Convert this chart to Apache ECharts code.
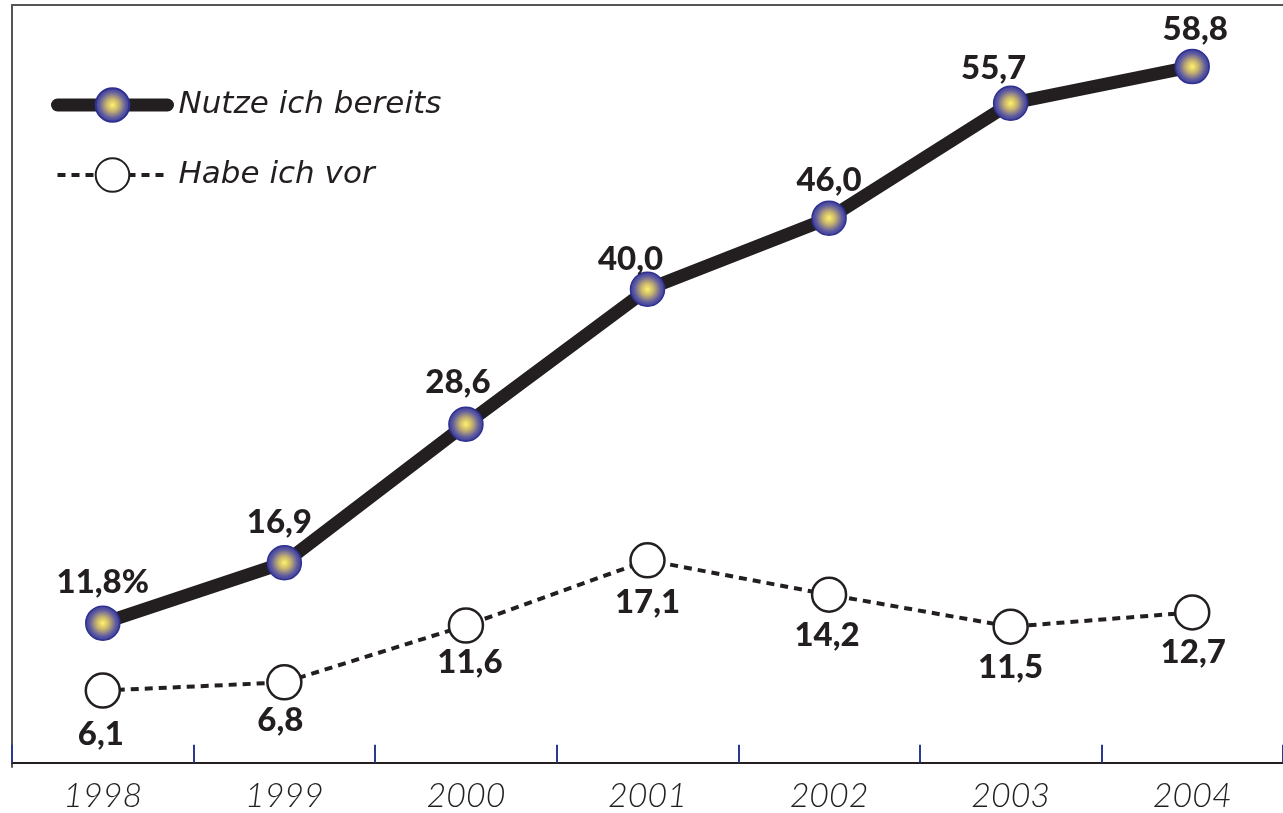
<!DOCTYPE html>
<html>
<head>
<meta charset="utf-8">
<script src="https://cdn.jsdelivr.net/npm/echarts@6/dist/echarts.min.js"></script>
<style>
html,body{margin:0;padding:0;background:#fff;}
#chart{width:1283px;height:813px;}
</style>
</head>
<body>
<div id="chart"></div>
<script>
const years = ['1998','1999','2000','2001','2002','2003','2004'];
const nutzeValues = [11.8, 16.9, 28.6, 40.0, 46.0, 55.7, 58.8];
const habeValues = [6.1, 6.8, 11.6, 17.1, 14.2, 11.5, 12.7];
const seriesNames = ['Nutze ich bereits', 'Habe ich vor'];

// label nudges (style only)
const nutzeLabelNudge = [[0,-3],[-5,-3],[-8,-4],[-17,8],[0,0],[-17,3],[3,1]];
const habeLabelNudge = [[-2,3],[-4,-2],[4,-3],[0,2],[-2,0],[0,0],[1,0]];

const fmt = v => v.toFixed(1).replace('.', ',');
const labelFont = {fontFamily: 'Lato, "Noto Sans", sans-serif', fontWeight: 900, fontSize: 33, color: '#231f20', lineHeight: 32};

const nutzeGradient = {type: 'radial', x: 0.5, y: 0.5, r: 0.5, colorStops: [
  {offset: 0, color: '#fff36a'}, {offset: 0.35, color: '#c8b46e'}, {offset: 0.75, color: '#5d5aa0'}, {offset: 1, color: '#3a3a96'}]};

const chart = echarts.init(document.getElementById('chart'));
chart.setOption({
  animation: false,
  backgroundColor: '#fff',
  grid: {left: 12, right: -2, top: 5, bottom: 45},
  legend: {
    orient: 'vertical', left: 46, top: 79,
    itemWidth: 110, itemHeight: 42, itemGap: 28,
    data: [
      {name: seriesNames[0], lineStyle: {width: 13, cap: 'round', color: '#231f20'}},
      {name: seriesNames[1], lineStyle: {width: 4, type: [8, 6], color: '#231f20'}}
    ],
    textStyle: {fontFamily: '"DejaVu Sans", sans-serif', fontStyle: 'italic', fontSize: 31, color: '#231f20', padding: [0,0,0,6], lineHeight: 42}
  },
  xAxis: [{
    type: 'category', data: years, boundaryGap: true,
    axisLine: {show: true, lineStyle: {color: '#231f20', width: 2}},
    axisTick: {show: true, inside: true, length: 18, lineStyle: {color: '#2b3990', width: 2}},
    axisLabel: {fontFamily: 'Lato, "Noto Sans", sans-serif', fontStyle: 'italic', fontWeight: 300, fontSize: 34, color: '#231f20', margin: 12}
  }, {
    type: 'category', data: years, position: 'top',
    axisLine: {show: true, lineStyle: {color: '#555', width: 2}},
    axisTick: {show: false}, axisLabel: {show: false}
  }],
  yAxis: {type: 'value', min: -0.35, max: 64, splitLine: {show: false},
    axisLine: {show: true, lineStyle: {color: '#555', width: 2}},
    axisTick: {show: false}, axisLabel: {show: false}},
  series: [
    {
      name: seriesNames[1], type: 'line', z: 2,
      data: habeValues.map((v, i) => ({value: v, label: {offset: habeLabelNudge[i]}})),
      symbol: 'circle', symbolSize: 34,
      lineStyle: {color: '#231f20', width: 4, type: [8, 6]},
      itemStyle: {color: '#fff', borderColor: '#231f20', borderWidth: 2.5},
      label: Object.assign({show: true, position: 'bottom', distance: 6, formatter: p => fmt(p.value)}, labelFont)
    },
    {
      name: seriesNames[0], type: 'line', z: 3,
      data: nutzeValues.map((v, i) => ({value: v, label: {offset: nutzeLabelNudge[i]}})),
      symbol: 'circle', symbolSize: 34,
      lineStyle: {color: '#231f20', width: 13},
      itemStyle: {color: nutzeGradient, borderColor: '#2e3192', borderWidth: 1.5},
      label: Object.assign({show: true, position: 'top', distance: 4,
        formatter: p => p.dataIndex === 0 ? fmt(p.value) + '%' : fmt(p.value)}, labelFont)
    }
  ]
});
</script>
</body>
</html>
